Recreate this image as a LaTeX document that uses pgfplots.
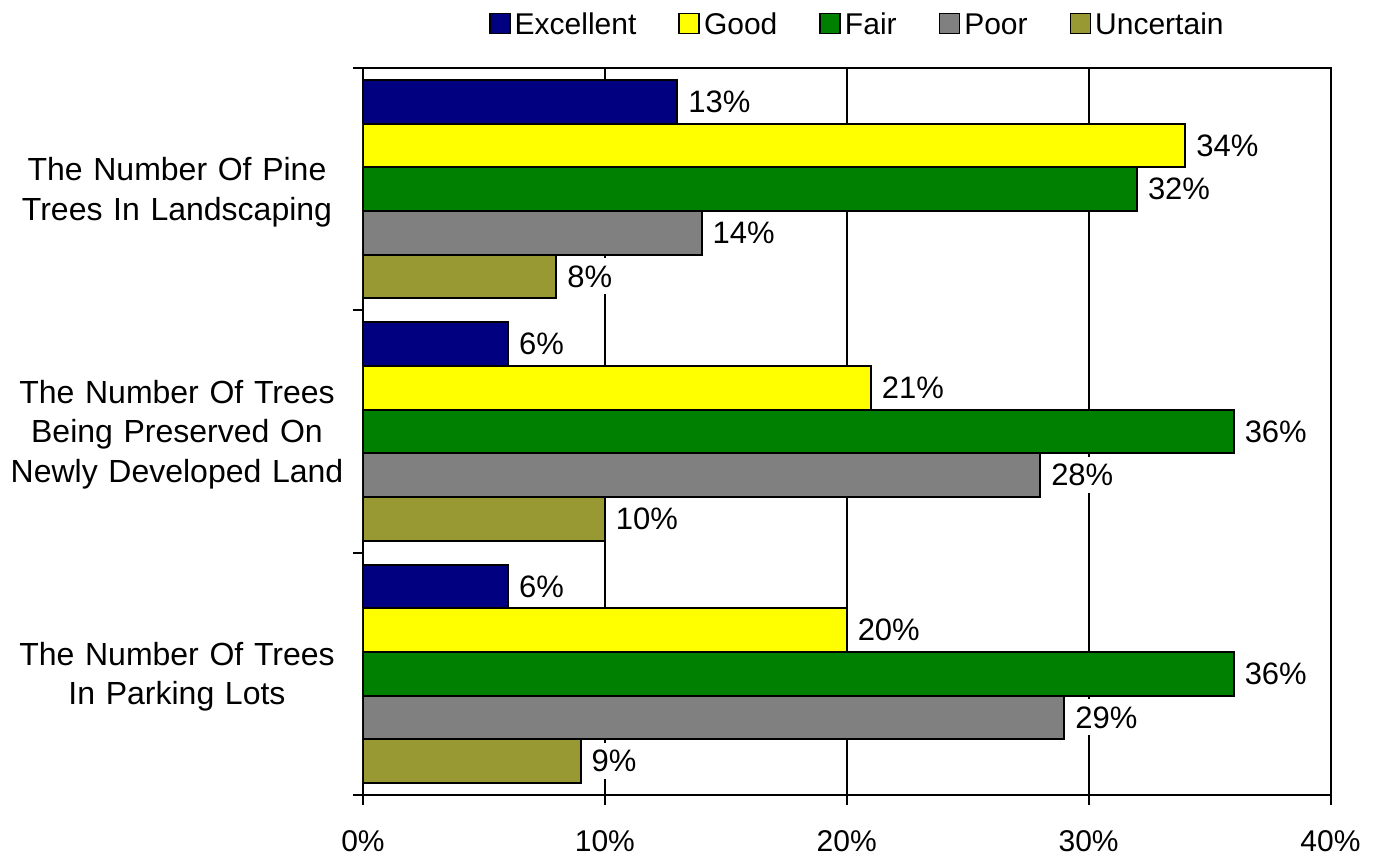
\documentclass[border=0pt]{standalone}
\usepackage{fontspec}
\setmainfont{Liberation Sans}
\usepackage{pgfplots}
\pgfplotsset{compat=1.18}
\definecolor{cExc}{RGB}{0,0,128}
\definecolor{cGood}{RGB}{255,255,0}
\definecolor{cFair}{RGB}{0,128,0}
\definecolor{cPoor}{RGB}{128,128,128}
\definecolor{cUnc}{RGB}{153,153,51}
\begin{document}
\fontsize{15pt}{19.75pt}\selectfont
\begin{tikzpicture}
\path[use as bounding box] (-181.5pt,-31pt) rectangle (508.5pt,397.5pt);
\begin{axis}[
  at={(0,0)}, anchor=south west,
  scale only axis,
  width=483.75pt, height=363.5pt,
  xmin=0, xmax=40, ymin=-0.5, ymax=2.5,
  xbar, bar width=0.18,
  line width=1pt,
  /pgf/number format/assume math mode=true,
  tick pos=left,
  tick align=outside,
  xtick={0,10,20,30,40},
  xticklabels={0\%,10\%,20\%,30\%,40\%},
  xticklabel style={yshift=-3.5pt},
  major tick length=9pt,
  major x tick style={yshift=4pt, black, line width=1pt},
  ytick={0,1,2},
  yticklabels={{The Number Of Trees\\In Parking Lots},{The Number Of Trees\\Being Preserved On\\Newly Developed Land},{The Number Of Pine\\Trees In Landscaping}},
  major y tick style={draw=none},
  minor ytick={-0.5,0.5,1.5,2.5},
  minor tick length=5pt,
  minor y tick style={black, line width=1pt},
  yticklabel style={text width=172pt, align=center, xshift=7.5pt, yshift=-1.5pt,
    font=\fontsize{16pt}{19.75pt}\selectfont},
  xmajorgrids,
  major grid style={black, line width=1pt},
  axis line style={black, line width=1pt},
  nodes near coords={\pgfmathprintnumber{\pgfplotspointmeta}\%},
  every node near coord/.append style={anchor=west, inner xsep=2pt, inner ysep=3.5pt,
    xshift=3pt, text=black, fill=white,
    font=\fontsize{15.5pt}{18pt}\selectfont},
  legend columns=5,
  legend style={draw=none, fill=none, at={(0.512,1.061)}, anchor=center,
    nodes={text depth=0pt},
    /tikz/every even column/.append style={column sep=19pt}},
  legend image code/.code={\draw[#1, draw=black, line width=0.8pt] (0pt,-5pt) rectangle (10pt,5pt);},
]
\addplot[fill=cExc, draw=black, bar shift=0.36] coordinates {(6,0) (6,1) (13,2)};
\addplot[fill=cGood, draw=black, bar shift=0.18] coordinates {(20,0) (21,1) (34,2)};
\addplot[fill=cFair, draw=black, bar shift=0] coordinates {(36,0) (36,1) (32,2)};
\addplot[fill=cPoor, draw=black, bar shift=-0.18] coordinates {(29,0) (28,1) (14,2)};
\addplot[fill=cUnc, draw=black, bar shift=-0.36] coordinates {(9,0) (10,1) (8,2)};
\legend{Excellent,Good\vphantom{l},Fair\vphantom{l},Poor\vphantom{l},Uncertain}
\end{axis}
\end{tikzpicture}
\end{document}
